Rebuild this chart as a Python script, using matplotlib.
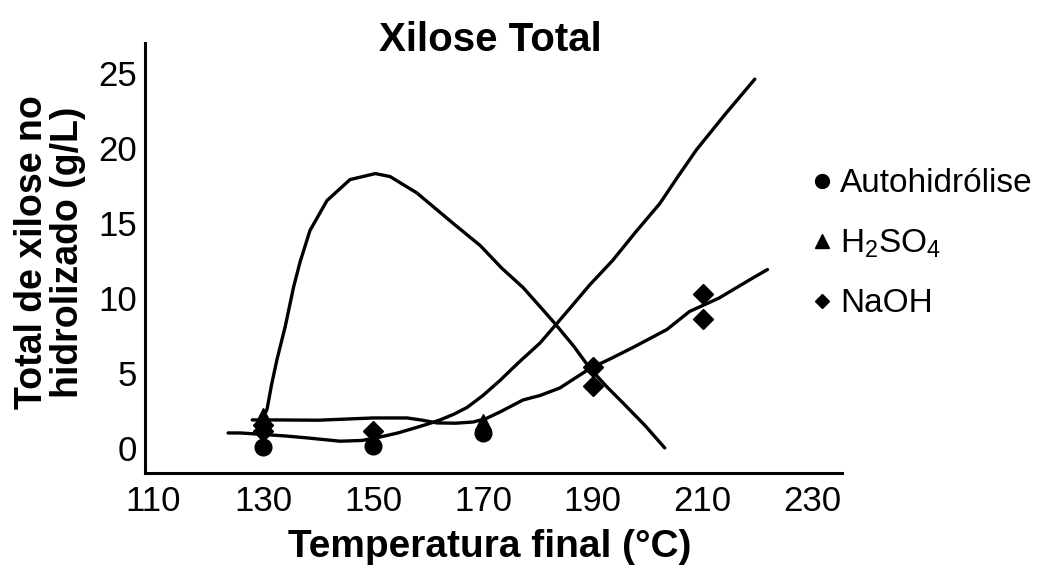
import matplotlib
matplotlib.use("Agg")
import matplotlib.pyplot as plt
from matplotlib.lines import Line2D

plt.rcParams['font.family'] = ['Liberation Sans', 'DejaVu Sans']
plt.rcParams['mathtext.fontset'] = 'custom'
plt.rcParams['mathtext.rm'] = 'Liberation Sans'
plt.rcParams['mathtext.default'] = 'regular'

# ---- data ----
title = "Xilose Total"
xlabel = "Temperatura final (°C)"
ylabel = "Total de xilose no\nhidrolizado (g/L)"
xticks = [110, 130, 150, 170, 190, 210, 230]
yticks = [0, 5, 10, 15, 20, 25]

auto_x = [130, 150, 170]
auto_y = [0.05, 0.1, 1.0]

h2so4_x = [130, 170]
h2so4_y = [2.1, 1.7]

naoh_x = [130, 130, 150, 190, 190, 210, 210]
naoh_y = [1.5, 1.15, 1.1, 5.4, 4.1, 10.3, 8.6]

# trend curves (read point by point)
hump_x = [130.0, 130.7, 131.5, 132.5, 134.0, 135.5, 136.7, 138.5, 141.6, 145.8,
          150.4, 153.1, 158.0, 164.5, 169.5, 173.4, 177.3, 180.7, 183.1, 186.5,
          189.5, 192.5, 195.5, 199.5, 203.1]
hump_y = [2.0, 2.6, 4.2, 5.9, 8.1, 10.7, 12.4, 14.5, 16.5, 17.9,
          18.3, 18.1, 17.0, 15.0, 13.5, 12.0, 10.7, 9.3, 8.3, 6.8,
          5.3, 4.1, 3.0, 1.5, 0.0]

auto_cx = [123.6, 125.8, 130.0, 134.0, 138.0, 144.0, 148.0, 151.3, 154.5, 157.3,
           160.0, 162.2, 164.7, 167.1, 170.0, 173.1, 176.5, 180.4, 185.8, 189.5,
           193.6, 197.8, 202.2, 205.5, 208.9, 214.2, 219.5]
auto_cy = [1.0, 1.0, 0.9, 0.8, 0.67, 0.45, 0.5, 0.73, 1.0, 1.3,
           1.6, 1.87, 2.25, 2.7, 3.5, 4.5, 5.7, 7.0, 9.3, 10.9,
           12.5, 14.4, 16.3, 18.1, 19.9, 22.3, 24.6]

naoh_cx = [128.0, 131.8, 140.0, 150.0, 156.2, 159.0, 161.6, 165.0, 168.2, 170.5,
           173.1, 177.3, 180.4, 184.0, 189.5, 193.5, 197.3, 203.5, 207.6, 213.0,
           218.5, 221.8]
naoh_cy = [1.87, 1.87, 1.85, 2.0, 2.0, 1.85, 1.67, 1.65, 1.73, 1.95,
           2.4, 3.2, 3.5, 4.0, 5.3, 6.0, 6.7, 7.9, 9.1, 10.0,
           11.2, 11.9]

fig = plt.figure(figsize=(10.52, 5.83), dpi=100)
ax = fig.add_axes([0.138, 0.1887, 0.662, 0.7373])

lw = 2.4
ax.plot(hump_x, hump_y, color='black', lw=lw, solid_capstyle='round')
ax.plot(auto_cx, auto_cy, color='black', lw=lw, solid_capstyle='round')
ax.plot(naoh_cx, naoh_cy, color='black', lw=lw, solid_capstyle='round')

ax.plot(h2so4_x, h2so4_y, linestyle='none', marker='^', ms=11, color='black')
ax.plot(naoh_x, naoh_y, linestyle='none', marker='D', ms=10, color='black')
ax.plot(auto_x, auto_y, linestyle='none', marker='o', ms=12, color='black')

ax.set_xlim(108.5, 235.3)
ax.set_ylim(-1.67, 27.0)
ax.set_xticks(xticks)
ax.set_yticks(yticks)
ax.tick_params(axis='both', length=0, labelsize=25)
ax.tick_params(axis='x', pad=9)
ax.tick_params(axis='y', pad=6)
for s in ['top', 'right']:
    ax.spines[s].set_visible(False)
for s in ['left', 'bottom']:
    ax.spines[s].set_linewidth(2.2)

fig.text(490/1052, 1 - 40/583, title, ha='center', va='center',
         fontsize=29, fontweight='bold')
fig.text(490/1052, 1 - 547/583, xlabel, ha='center', va='center',
         fontsize=28, fontweight='bold')
fig.text(50/1052, 1 - 252/583, ylabel, ha='center', va='center',
         fontsize=27, fontweight='bold', rotation=90, linespacing=1.0)

handles = [Line2D([], [], linestyle='none', marker='o', ms=10, color='black'),
           Line2D([], [], linestyle='none', marker='^', ms=10, color='black'),
           Line2D([], [], linestyle='none', marker='D', ms=7.5, color='black')]
labels = ["Autohidrólise", r"H$_2$SO$_4$", "NaOH"]
fig.legend(handles, labels, loc='upper left', bbox_to_anchor=(800/1052, 1 - 155/583),
           frameon=False, fontsize=24, handlelength=0.5, handletextpad=0.3,
           labelspacing=0.85, borderaxespad=0)

fig.savefig("out.png", dpi=100)
